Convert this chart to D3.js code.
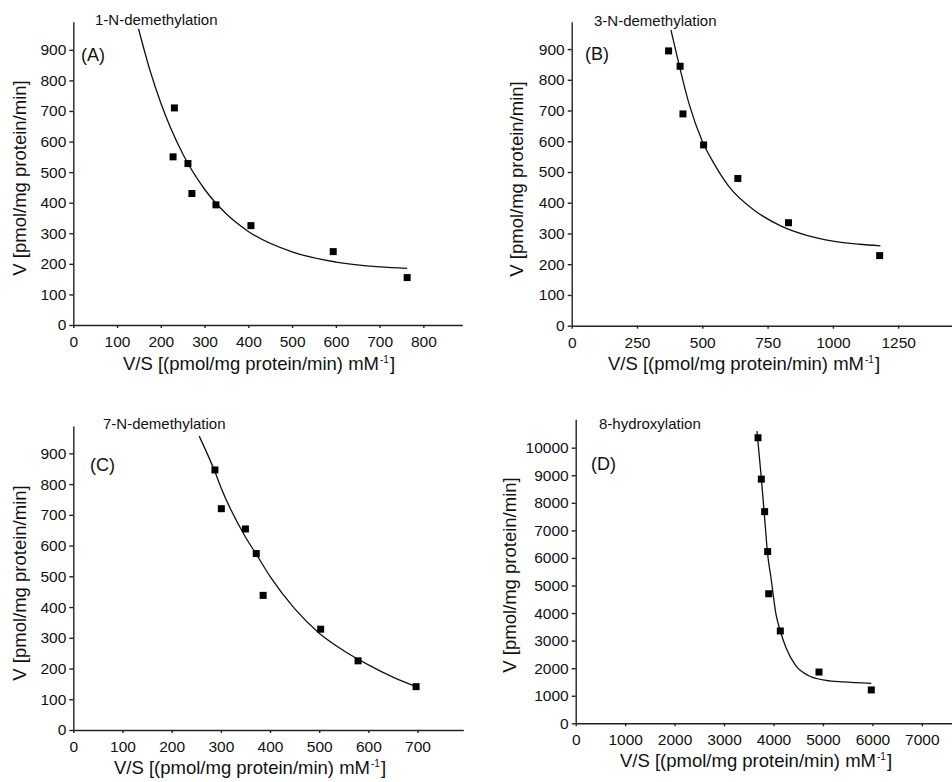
<!DOCTYPE html>
<html>
<head>
<meta charset="utf-8">
<script src="https://cdn.jsdelivr.net/npm/d3@7"></script>
<style>
  body { margin: 0; background: #fff; }
  svg { display: block; font-family: "Liberation Sans", Arial, sans-serif; }
  .axis path, .axis line { stroke: #222; stroke-width: 1.4; }
  .axis text { font-size: 15.5px; fill: #111; }
</style>
</head>
<body>
<div id="chart"></div>
<script>
// ---- data ----
// (A) 1-N-demethylation
const aVS = [231, 228, 262, 271, 326, 406, 594, 763];
const aV = [710, 550, 528, 430, 393, 325, 240, 155];
const aFitVS = [149, 175, 200, 250, 300, 350, 400, 500, 600, 700, 763];
const aFitV = [969, 834, 726, 560, 444, 363, 306, 239, 206, 190, 185];

// (B) 3-N-demethylation
const bVS = [371, 415, 426, 505, 636, 830, 1179];
const bV = [894, 844, 689, 588, 479, 335, 228];
const bFitVS = [380, 400, 450, 500, 550, 600, 700, 800, 900, 1000, 1100, 1182];
const bFitV = [962, 889, 720, 600, 520, 455, 375, 325, 294, 275, 265, 260];

// (C) 7-N-demethylation
const cVS = [288, 301, 350, 372, 386, 503, 579, 697];
const cV = [846, 720, 654, 574, 438, 328, 225, 141];
const cFitVS = [256, 288, 300, 350, 372, 400, 450, 500, 550, 600, 650, 697];
const cFitV = [956, 840, 790, 628, 572, 500, 395, 315, 258, 212, 172, 141];

// (D) 8-hydroxylation
const dVS = [3687, 3754, 3821, 3882, 3903, 4138, 4920, 5978];
const dV = [10360, 8860, 7680, 6230, 4700, 3350, 1860, 1210];
const dFitVS = [3666, 3747, 3815, 3882, 3949, 4051, 4138, 4253, 4455, 4724, 5061, 5400, 5978];
const dFitV = [10600, 9030, 7580, 6130, 5280, 3950, 3350, 2745, 2080, 1717, 1560, 1500, 1451];

// tick labels
const ticksA_x = [0, 100, 200, 300, 400, 500, 600, 700, 800];
const ticksB_x = [0, 250, 500, 750, 1000, 1250];
const ticksC_x = [0, 100, 200, 300, 400, 500, 600, 700];
const ticksD_x = [0, 1000, 2000, 3000, 4000, 5000, 6000, 7000];
const ticks_y = [0, 100, 200, 300, 400, 500, 600, 700, 800, 900];
const ticksD_y = [0, 1000, 2000, 3000, 4000, 5000, 6000, 7000, 8000, 9000, 10000];

const titles = ["1-N-demethylation", "3-N-demethylation", "7-N-demethylation", "8-hydroxylation"];
const letters = ["(A)", "(B)", "(C)", "(D)"];

const width = 952, height = 782;

const svg = d3.select("#chart")
  .append("svg")
  .attr("width", width)
  .attr("height", height);

// panel layout (pixel positions of the plot areas)
const panels = [
  {vs: aVS, v: aV, fx: aFitVS, fy: aFitV, xt: ticksA_x, yt: ticks_y, xMax: 889, yMax: 992,
   left: 73.3, right: 462.3, bottom: 325, top: 21.7,
   title: [95, 25], letter: [81, 61], ytitle: [26, 178], xtitle: [259, 370]},
  {vs: bVS, v: bV, fx: bFitVS, fy: bFitV, xt: ticksB_x, yt: ticks_y, xMax: 1456, yMax: 989,
   left: 571.7, right: 952, bottom: 325.7, top: 21.7,
   title: [594, 26], letter: [585, 60], ytitle: [523, 179], xtitle: [744, 370]},
  {vs: cVS, v: cV, fx: cFitVS, fy: cFitV, xt: ticksC_x, yt: ticks_y, xMax: 793, yMax: 989,
   left: 73.3, right: 463.3, bottom: 730, top: 426,
   title: [103, 429], letter: [90, 471], ytitle: [26, 583], xtitle: [250, 774]},
  {vs: dVS, v: dV, fx: dFitVS, fy: dFitV, xt: ticksD_x, yt: ticksD_y, xMax: 7610, yMax: 11030,
   left: 575.7, right: 952, bottom: 723.3, top: 419.3,
   title: [599, 429], letter: [591, 470], ytitle: [516, 575], xtitle: [756, 767]}
];

panels.forEach(function(p, i) {
  const g = svg.append("g");

  const x = d3.scaleLinear().domain([0, p.xMax]).range([p.left, p.right]);
  const y = d3.scaleLinear().domain([0, p.yMax]).range([p.bottom, p.top]);

  // axes
  g.append("g")
    .attr("class", "axis")
    .attr("transform", `translate(0,${p.bottom})`)
    .call(d3.axisBottom(x).tickValues(p.xt).tickSizeInner(3).tickSizeOuter(0).tickPadding(8).tickFormat(d3.format("d")));

  g.append("g")
    .attr("class", "axis")
    .attr("transform", `translate(${p.left},0)`)
    .call(d3.axisLeft(y).tickValues(p.yt).tickSizeInner(4).tickSizeOuter(0).tickPadding(3).tickFormat(d3.format("d")));

  // fitted curve
  const pts = p.fx.map((d, k) => [d, p.fy[k]]);
  g.append("path")
    .datum(pts)
    .attr("fill", "none")
    .attr("stroke", "#111")
    .attr("stroke-width", 1.3)
    .attr("d", d3.line().x(d => x(d[0])).y(d => y(d[1])).curve(d3.curveMonotoneX));

  // data points
  const s = 7;
  g.selectAll("rect.pt")
    .data(p.vs.map((d, k) => [d, p.v[k]]))
    .join("rect")
    .attr("class", "pt")
    .attr("x", d => x(d[0]) - s / 2)
    .attr("y", d => y(d[1]) - s / 2)
    .attr("width", s)
    .attr("height", s)
    .attr("fill", "#000");

  // texts
  g.append("text")
    .attr("x", p.title[0]).attr("y", p.title[1])
    .attr("font-size", 15).attr("fill", "#111")
    .text(titles[i]);

  g.append("text")
    .attr("x", p.letter[0]).attr("y", p.letter[1])
    .attr("font-size", 18).attr("fill", "#111")
    .text(letters[i]);

  g.append("text")
    .attr("transform", `translate(${p.ytitle[0]},${p.ytitle[1]}) rotate(-90)`)
    .attr("text-anchor", "middle")
    .attr("font-size", 18.5).attr("fill", "#111")
    .text("V [pmol/mg protein/min]");

  const xt = g.append("text")
    .attr("x", p.xtitle[0]).attr("y", p.xtitle[1])
    .attr("text-anchor", "middle")
    .attr("font-size", 18.5).attr("fill", "#111");
  xt.append("tspan").text("V/S [(pmol/mg protein/min) mM");
  xt.append("tspan").attr("font-size", 10).attr("dx", 1).attr("dy", -7).text("-1");
  xt.append("tspan").attr("dx", 1).attr("dy", 7).text("]");
});
</script>
</body>
</html>
